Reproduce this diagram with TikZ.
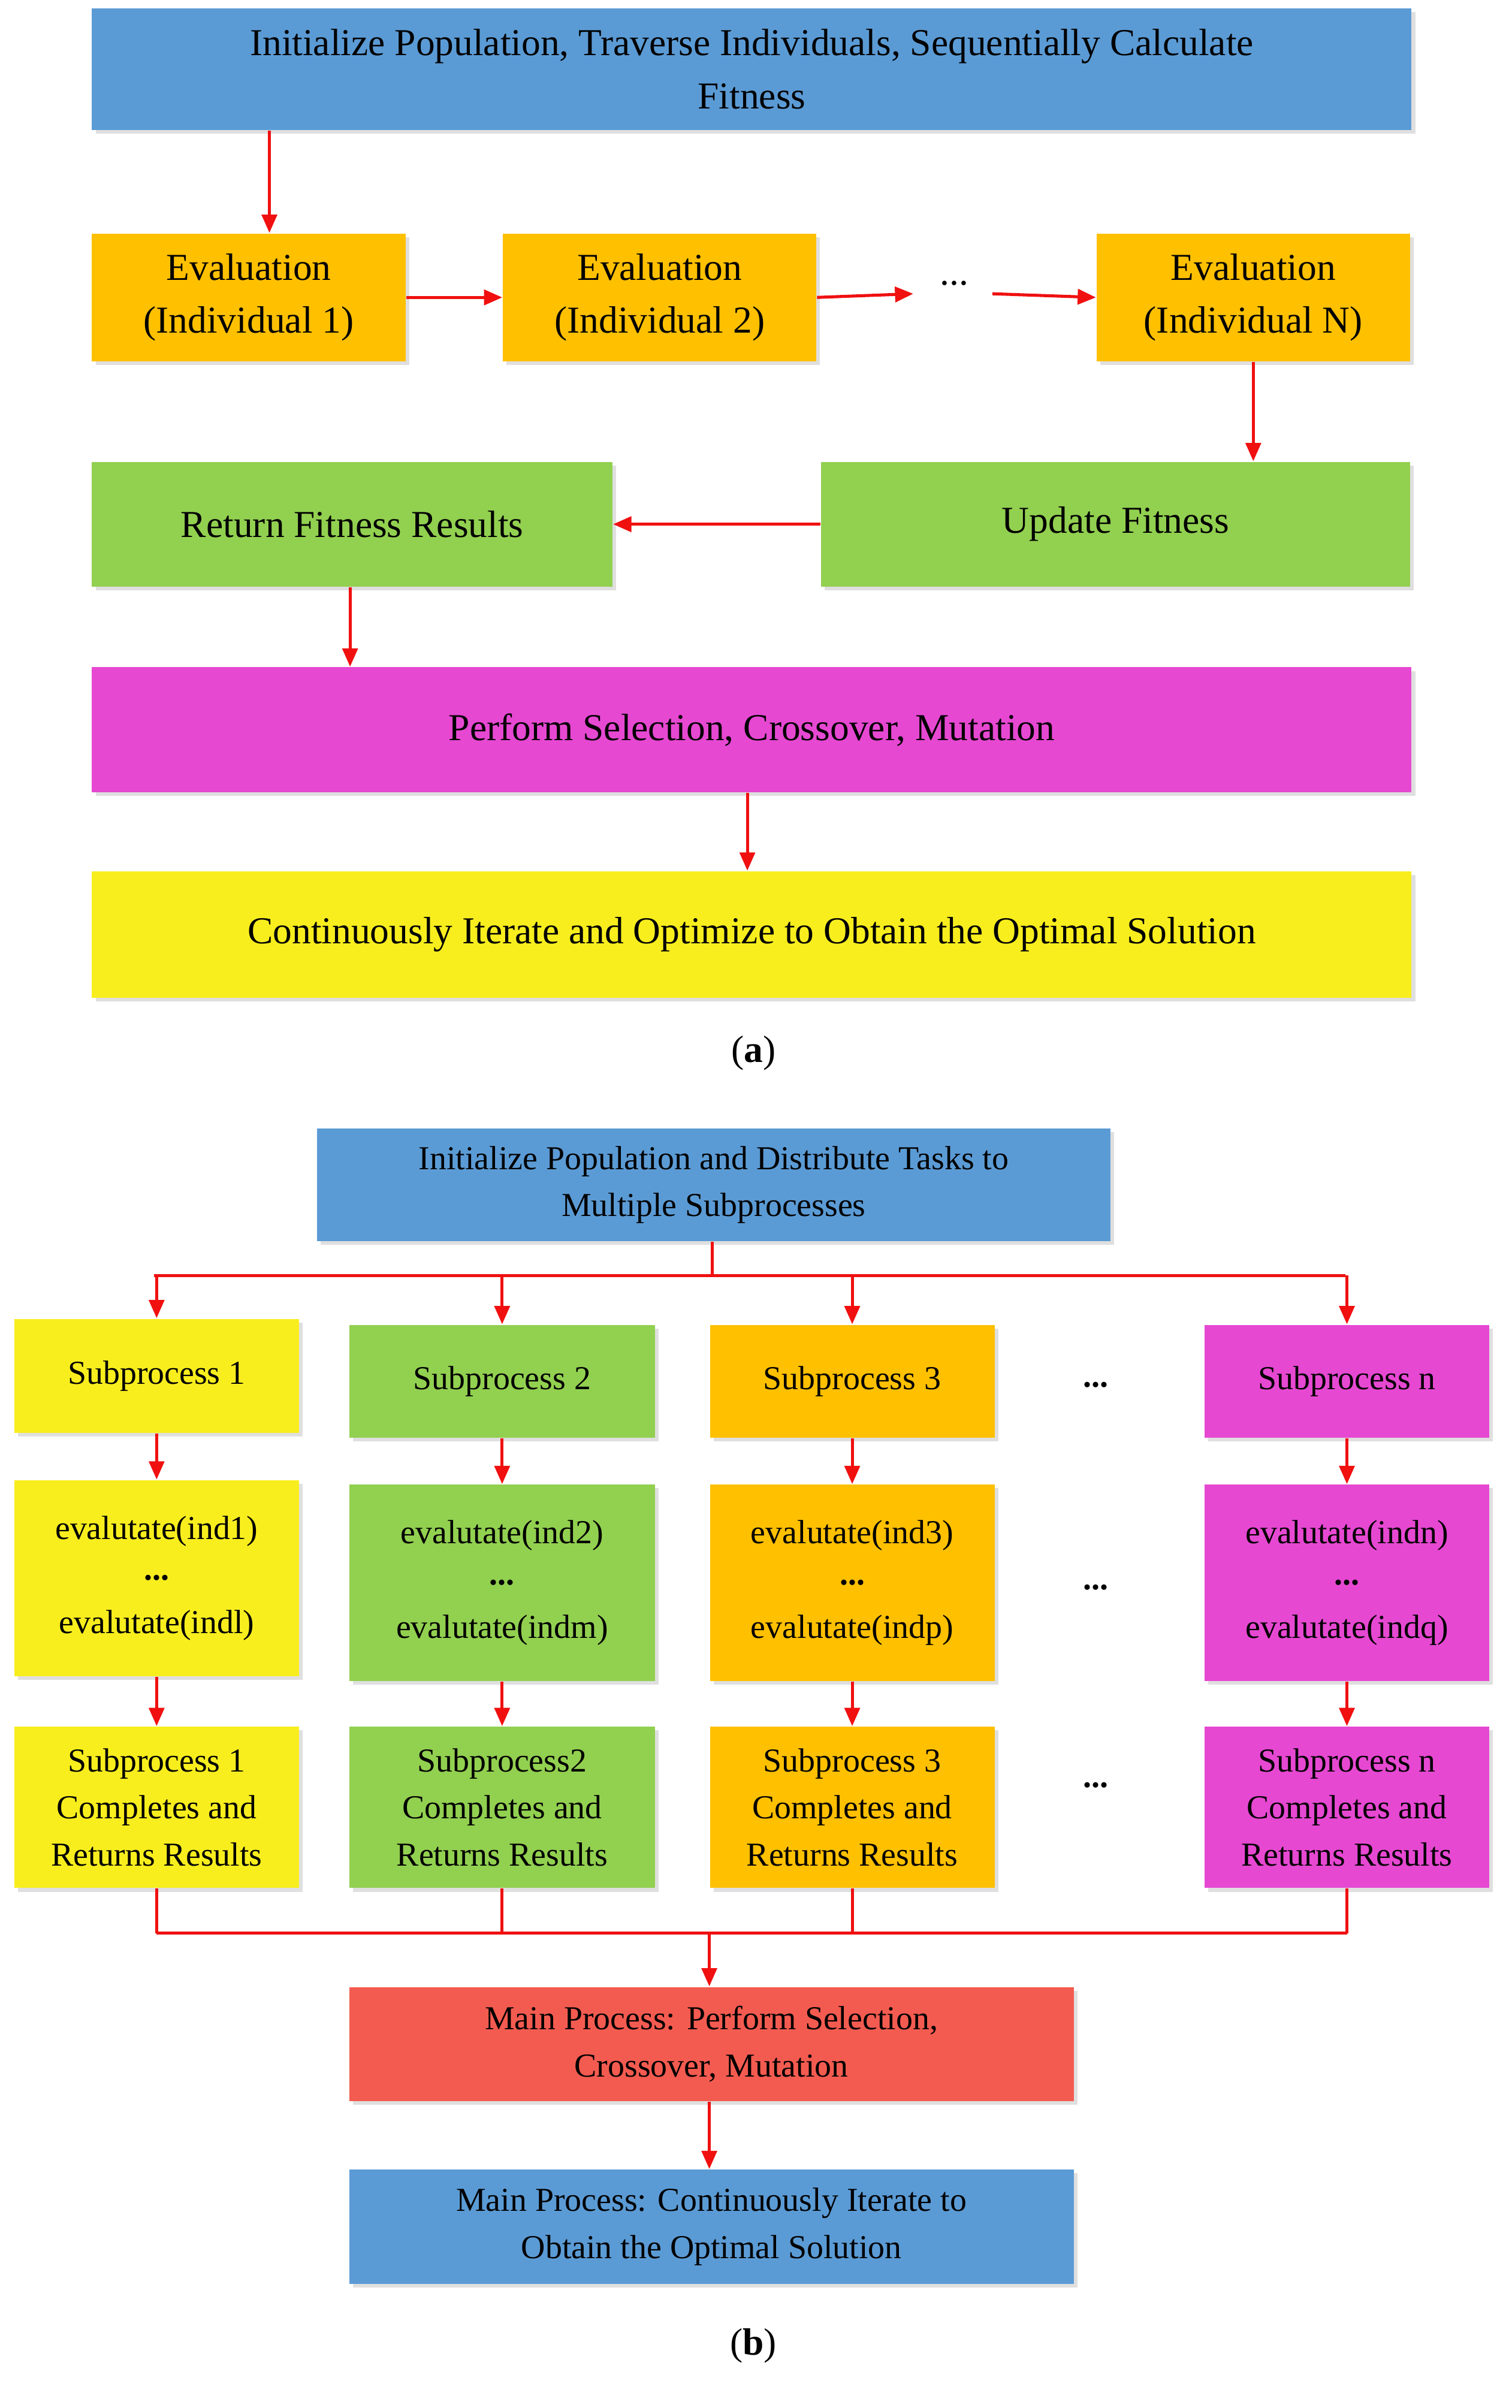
\documentclass[tikz,border=0pt]{standalone}
\usepackage{fontspec}
\setmainfont{Liberation Serif}
\usetikzlibrary{arrows.meta,shadows}
\definecolor{cblue}{HTML}{5B9BD5}
\definecolor{corange}{HTML}{FFC000}
\definecolor{cgreen}{HTML}{92D050}
\definecolor{cmag}{HTML}{E648D2}
\definecolor{cyel}{HTML}{F8EE1E}
\definecolor{cred}{HTML}{F45B50}
\definecolor{cline}{HTML}{F01010}
\begin{document}
\begin{tikzpicture}[x=0.5pt,y=-0.5pt,
 box/.style={align=center,inner sep=0pt,anchor=north west,drop shadow={shadow xshift=1.2pt,shadow yshift=-1.2pt,opacity=0.25}},
 fa/.style={font=\fontsize{12.5}{17.5}\selectfont},
 fb/.style={font=\fontsize{11}{15.5}\selectfont},
 arr/.style={draw=cline,line width=1pt,-{Triangle[length=6pt,width=5pt]}},
 ln/.style={draw=cline,line width=1pt}]
\useasboundingbox (0,0) rectangle (993,1582);
% ---- (a)
\node[box,fa,fill=cblue,minimum width=433.5pt,minimum height=40pt] (t) at (60,5) {Initialize Population, Traverse Individuals, Sequentially Calculate\\Fitness};
\node[box,fa,fill=corange,minimum width=103pt,minimum height=42pt] (e1) at (60,153) {Evaluation\\(Individual 1)};
\node[box,fa,fill=corange,minimum width=103pt,minimum height=42pt] (e2) at (330,153) {Evaluation\\(Individual 2)};
\node[box,fa,fill=corange,minimum width=103pt,minimum height=42pt] (en) at (720,153) {Evaluation\\(Individual N)};
\node[fa] (ad) at (627,186) {...};
\node[box,fa,fill=cgreen,minimum width=171pt,minimum height=41pt] (ret) at (60,303) {Return Fitness Results};
\node[box,fa,fill=cgreen,minimum width=193.5pt,minimum height=41pt] (upd) at (539,303) {Update Fitness};
\node[box,fa,fill=cmag,minimum width=433.5pt,minimum height=41pt] (sel) at (60,438) {Perform Selection, Crossover, Mutation};
\node[box,fa,fill=cyel,minimum width=433.5pt,minimum height=41.5pt] (opt) at (60,572) {Continuously Iterate and Optimize to Obtain the Optimal Solution};
\node[fa] (la) at (495,692) {(\textbf{a})};
\draw[arr] (t.south -| 177,0) -- (e1.north -| 177,0);
\draw[arr] (e1.east) -- (e2.west);
\draw[arr] (e2.east) -- (600,193);
\draw[arr] (652,193) -- (en.west);
\draw[arr] (en.south) -- (upd.north -| en.south);
\draw[arr] (upd.west) -- (ret.east);
\draw[arr] (ret.south -| 230,0) -- (sel.north -| 230,0);
\draw[arr] (sel.south -| 491,0) -- (opt.north -| 491,0);
% ---- (b)
\node[box,fb,fill=cblue,minimum width=260.5pt,minimum height=37pt] (bt) at (208,741) {Initialize Population and Distribute Tasks to\\Multiple Subprocesses};
\node[box,fb,fill=cyel,minimum width=93.5pt,minimum height=37.5pt] (s1) at (9,866) {Subprocess 1};
\node[box,fb,fill=cgreen,minimum width=100.5pt,minimum height=37pt] (s2) at (229,870) {Subprocess 2};
\node[box,fb,fill=corange,minimum width=93.5pt,minimum height=37pt] (s3) at (466,870) {Subprocess 3};
\node[box,fb,fill=cmag,minimum width=93.5pt,minimum height=37pt] (s4) at (791,870) {Subprocess n};
\node[box,fb,fill=cyel,minimum width=93.5pt,minimum height=64.5pt] (v1) at (9,972) {evalutate(ind1)\\[-2pt]\textbf{...}\\[2pt]evalutate(indl)};
\node[box,fb,fill=cgreen,minimum width=100.5pt,minimum height=64.5pt] (v2) at (229,975) {evalutate(ind2)\\[-2pt]\textbf{...}\\[2pt]evalutate(indm)};
\node[box,fb,fill=corange,minimum width=93.5pt,minimum height=64.5pt] (v3) at (466,975) {evalutate(ind3)\\[-2pt]\textbf{...}\\[2pt]evalutate(indp)};
\node[box,fb,fill=cmag,minimum width=93.5pt,minimum height=64.5pt] (v4) at (791,975) {evalutate(indn)\\[-2pt]\textbf{...}\\[2pt]evalutate(indq)};
\node[box,fb,fill=cyel,minimum width=93.5pt,minimum height=53pt] (r1) at (9,1134) {Subprocess 1\\Completes and\\Returns Results};
\node[box,fb,fill=cgreen,minimum width=100.5pt,minimum height=53pt] (r2) at (229,1134) {Subprocess2\\Completes and\\Returns Results};
\node[box,fb,fill=corange,minimum width=93.5pt,minimum height=53pt] (r3) at (466,1134) {Subprocess 3\\Completes and\\Returns Results};
\node[box,fb,fill=cmag,minimum width=93.5pt,minimum height=53pt] (r4) at (791,1134) {Subprocess n\\Completes and\\Returns Results};
\node[fb] (d1) at (720,910) {\textbf{...}};
\node[fb] (d2) at (720,1043) {\textbf{...}};
\node[fb] (d3) at (720,1173) {\textbf{...}};
\node[box,fb,fill=cred,minimum width=238pt,minimum height=37.5pt] (mp) at (229,1305) {Main Process: Perform Selection,\\Crossover, Mutation};
\node[box,fb,fill=cblue,minimum width=238pt,minimum height=37.5pt] (mo) at (229,1425) {Main Process: Continuously Iterate to\\Obtain the Optimal Solution};
\node[fa] (lb) at (495,1541) {(\textbf{b})};
\coordinate (jt) at (468,838);
\draw[ln] (bt.south -| jt) -- (jt);
\draw[ln] (101,838) -- (884,838);
\foreach \s in {s1,s2,s3,s4} \draw[arr] (jt -| \s.north) -- (\s.north);
\draw[arr] (s1) -- (v1); \draw[arr] (s2) -- (v2); \draw[arr] (s3) -- (v3); \draw[arr] (s4) -- (v4);
\draw[arr] (v1) -- (r1); \draw[arr] (v2) -- (r2); \draw[arr] (v3) -- (r3); \draw[arr] (v4) -- (r4);
\coordinate (jb) at (466,1270);
\foreach \s in {r1,r2,r3,r4} \draw[ln] (\s.south) -- (jb -| \s.south);
\draw[ln] (jb -| r1.south) -- (jb -| r4.south);
\draw[arr] (jb) -- (mp.north -| jb);
\draw[arr] (mp.south -| jb) -- (mo.north -| jb);
\end{tikzpicture}
\end{document}
